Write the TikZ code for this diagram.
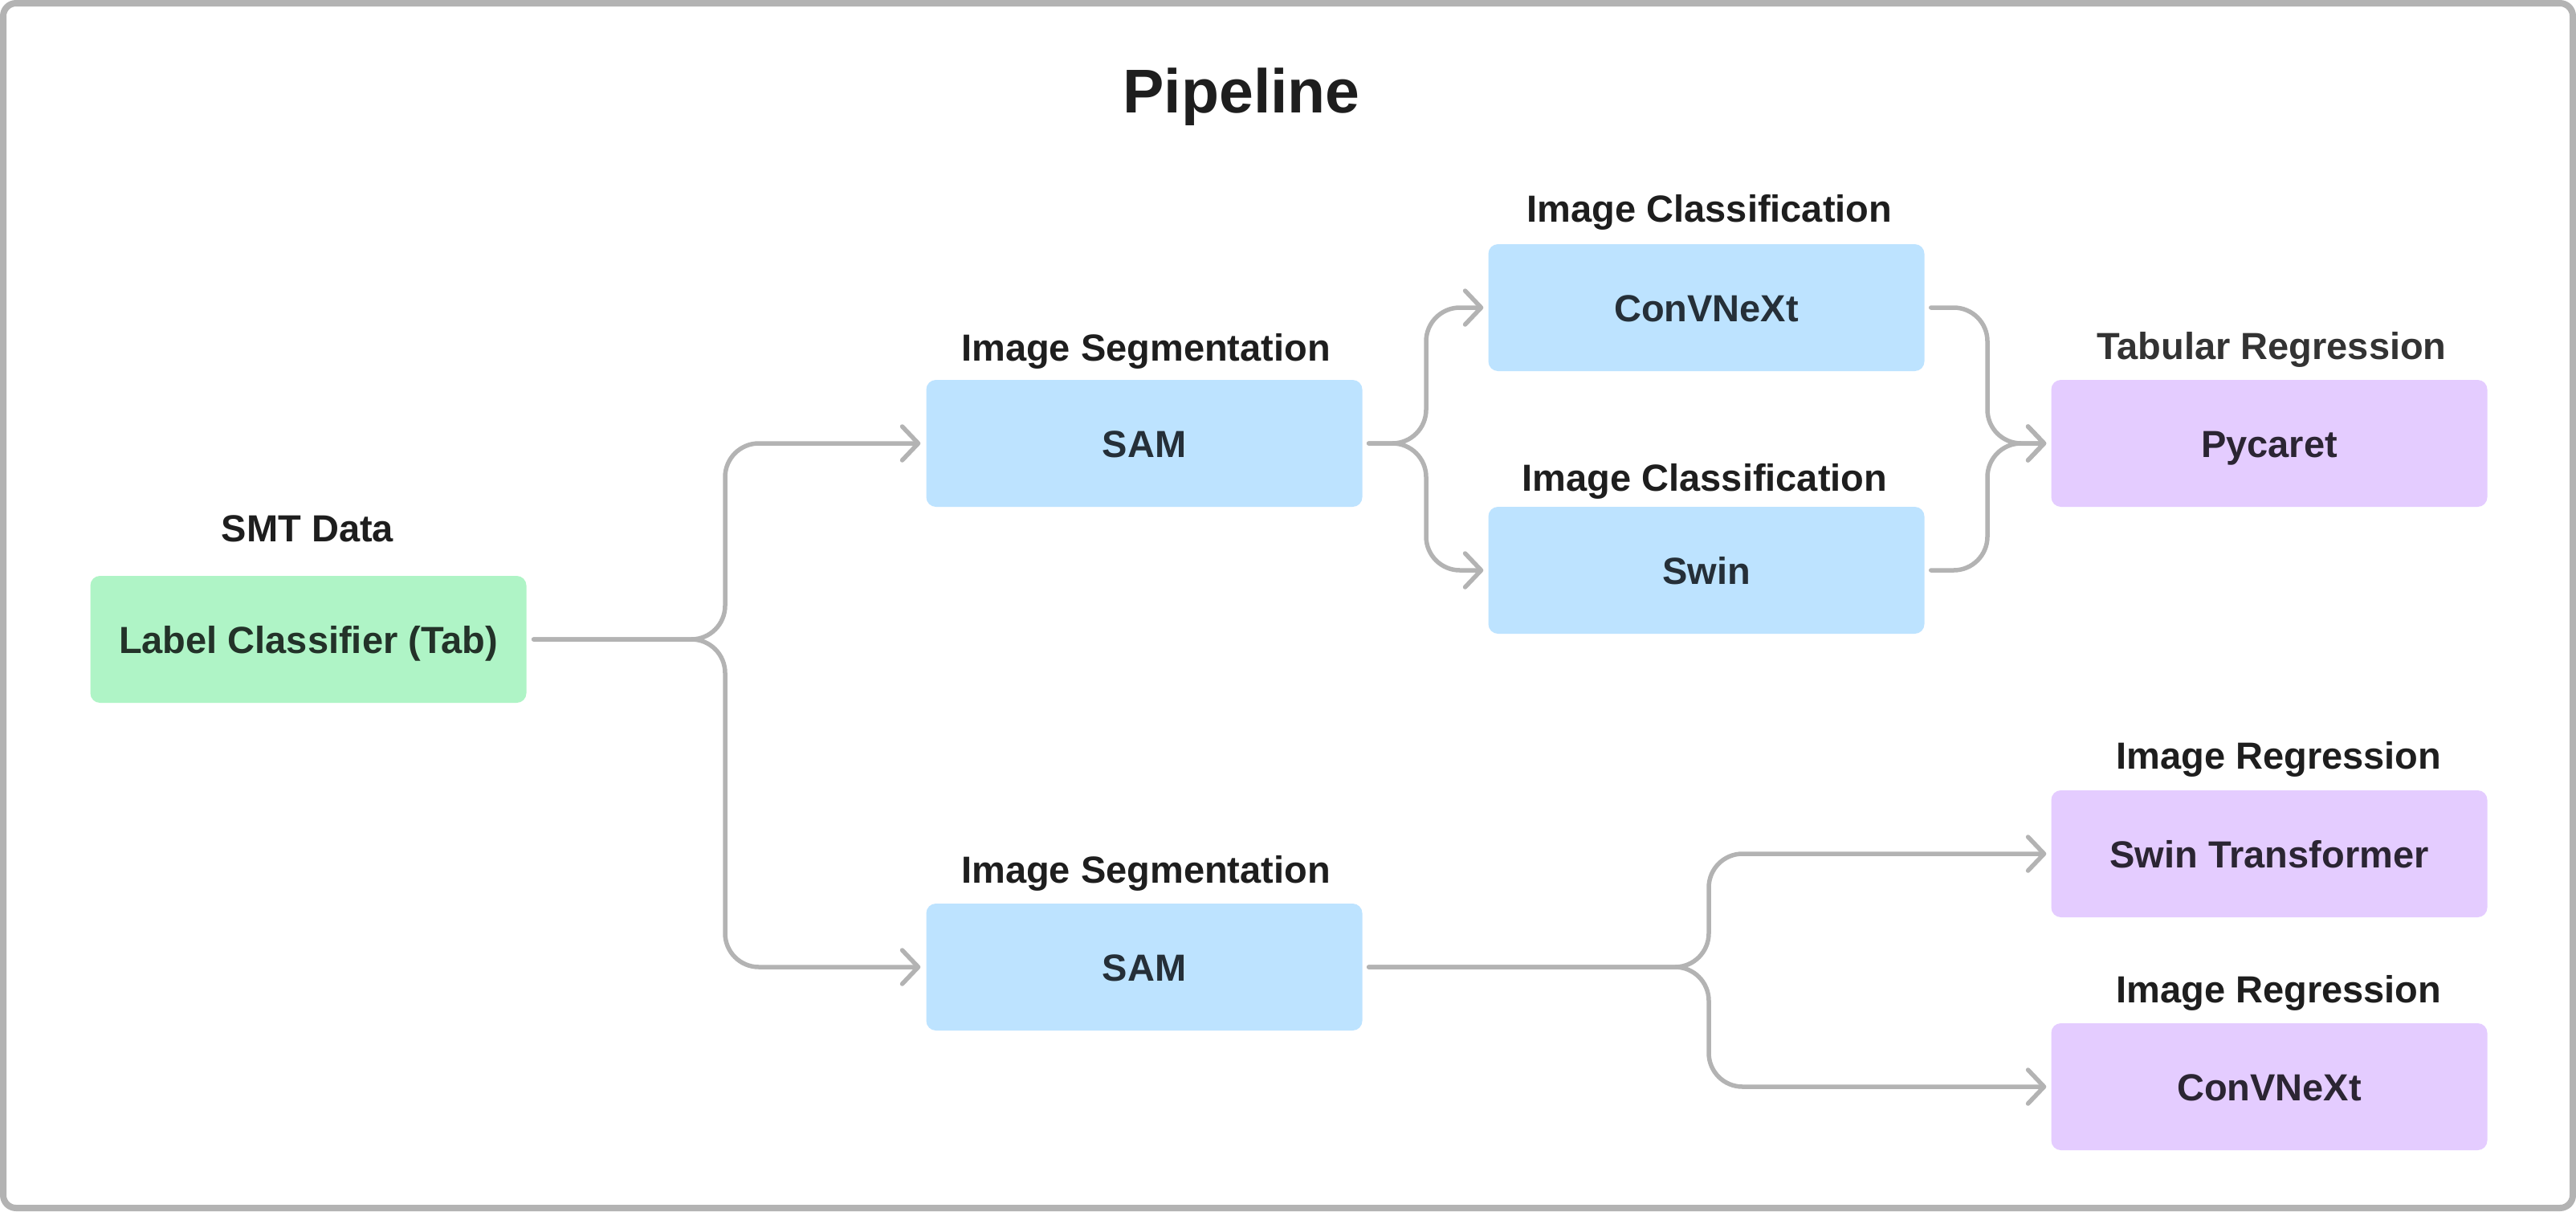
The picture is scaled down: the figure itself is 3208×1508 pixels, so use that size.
\documentclass[tikz,border=0pt]{standalone}
\usepackage{fontspec}
\setmainfont{Liberation Sans}
\usetikzlibrary{arrows.meta}
\definecolor{gfill}{HTML}{AFF4C6}
\definecolor{bfill}{HTML}{BDE3FF}
\definecolor{pfill}{HTML}{E4CCFF}
\definecolor{gtext}{HTML}{233229}
\definecolor{btext}{HTML}{252F38}
\definecolor{ptext}{HTML}{2B2533}
\definecolor{ltext}{HTML}{1E1E1E}
\definecolor{ltextb}{HTML}{333333}
\definecolor{conngray}{HTML}{B3B3B3}
\begin{document}
\begin{tikzpicture}[x=1pt,y=-1pt,
  box/.style={rectangle, rounded corners=12pt, minimum width=543pt, minimum height=158pt, inner sep=0pt, text height=34pt, text depth=0pt, font=\fontsize{47}{56}\selectfont\bfseries},
  gbox/.style={box, fill=gfill, text=gtext},
  bbox/.style={box, fill=bfill, text=btext},
  pbox/.style={box, fill=pfill, text=ptext},
  lab/.style={anchor=base, inner sep=0pt, font=\fontsize{47}{56}\selectfont\bfseries, text=ltext},
  connector/.style={draw=conngray, line width=5.5pt, line cap=round, line join=round, rounded corners=42pt},
  arr/.style={-{Straight Barb[length=20pt,width=42pt,round]}}
]
\useasboundingbox (0,0) rectangle (3208,1508);
\draw[draw=conngray, line width=8pt, rounded corners=16pt, fill=white] (4,4) rectangle (3204,1504);

% title
\node[lab, font=\fontsize{77}{90}\selectfont\bfseries] (title) at (1546,140) {Pipeline};

% boxes
\node[gbox] (smt) at (384,796) {Label Classifier (Tab)};
\node[bbox] (sam1) at (1425,552) {SAM};
\node[bbox] (sam2) at (1425,1204) {SAM};
\node[bbox] (cnx) at (2125,383) {ConVNeXt};
\node[bbox] (swin) at (2125,710) {Swin};
\node[pbox] (pyc) at (2826,552) {Pycaret};
\node[pbox] (swint) at (2826,1063) {Swin Transformer};
\node[pbox] (cnx2) at (2826,1353) {ConVNeXt};

% labels
\node[lab] (l1) at (383,674) {SMT Data};
\node[lab] (l2) at (1427,449) {Image Segmentation};
\node[lab] (l3) at (1427,1099) {Image Segmentation};
\node[lab] (l4) at (2129,276) {Image Classification};
\node[lab] (l5) at (2123,611) {Image Classification};
\node[lab, text=ltextb] (l6) at (2829,447) {Tabular Regression};
\node[lab] (l7) at (2838,957) {Image Regression};
\node[lab] (l8) at (2838,1248) {Image Regression};

% junction columns
\coordinate (j1) at (903,0);
\coordinate (j2) at (1776,0);
\coordinate (j3) at (2475,0);
\coordinate (j4) at (2128,0);

% connectors
\draw[connector, arr] ([xshift=9pt]smt.east) -| (j1 |- sam1) -- ([xshift=-7pt]sam1.west);
\draw[connector, arr] ([xshift=9pt]smt.east) -| (j1 |- sam2) -- ([xshift=-7pt]sam2.west);
\draw[connector, arr] ([xshift=8pt]sam1.east) -| (j2 |- cnx) -- ([xshift=-6pt]cnx.west);
\draw[connector, arr] ([xshift=8pt]sam1.east) -| (j2 |- swin) -- ([xshift=-6pt]swin.west);
\draw[connector, arr] ([xshift=8pt]cnx.east) -| (j3 |- pyc) -- ([xshift=-6pt]pyc.west);
\draw[connector, arr] ([xshift=8pt]swin.east) -| (j3 |- pyc) -- ([xshift=-6pt]pyc.west);
\draw[connector, arr] ([xshift=8pt]sam2.east) -| (j4 |- swint) -- ([xshift=-6pt]swint.west);
\draw[connector, arr] ([xshift=8pt]sam2.east) -| (j4 |- cnx2) -- ([xshift=-6pt]cnx2.west);
\end{tikzpicture}
\end{document}
